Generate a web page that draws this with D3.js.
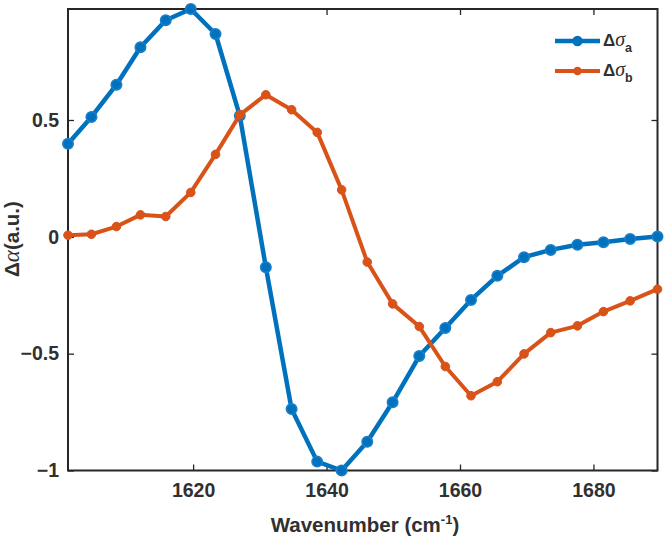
<!DOCTYPE html>
<html>
<head>
<meta charset="utf-8">
<script src="https://cdn.jsdelivr.net/npm/d3@7"></script>
<style>
  html, body { margin: 0; padding: 0; background: #fff; }
  svg { display: block; font-family: "Liberation Sans", Arial, sans-serif; }
</style>
</head>
<body>
<svg id="chart" width="666" height="538"></svg>
<script>
// Data
const wavenumber = [1601.25, 1604.76, 1608.51, 1612.11, 1615.9, 1619.65, 1623.36, 1627.0,
  1630.9, 1634.76, 1638.6, 1642.26, 1646.1, 1649.9, 1653.9, 1657.8, 1661.65, 1665.6,
  1669.6, 1673.6, 1677.6, 1681.5, 1685.5, 1689.6];
const sigmaA = [0.398, 0.513, 0.651, 0.811, 0.927, 0.975, 0.868, 0.518,
  -0.130, -0.737, -0.962, -1.0, -0.877, -0.708, -0.510, -0.390, -0.270, -0.167,
  -0.087, -0.056, -0.034, -0.023, -0.009, 0.001];
const sigmaB = [0.007, 0.011, 0.044, 0.094, 0.087, 0.190, 0.353, 0.522,
  0.608, 0.544, 0.447, 0.201, -0.108, -0.287, -0.384, -0.555, -0.680, -0.620,
  -0.501, -0.410, -0.381, -0.320, -0.274, -0.224];
const xTicks = [1620, 1640, 1660, 1680];
const yTicks = [-1, -0.5, 0, 0.5];
const seriesNames = ["a", "b"];
const seriesColors = ["#0072BD", "#D95319"];

const svg = d3.select("#chart");
const m = { left: 68, top: 9, right: 657.5, bottom: 470.5 };
const x = d3.scaleLinear().domain([1601.25, 1689.6]).range([m.left, m.right]);
const y = d3.scaleLinear().domain([-1, 0.975]).range([m.bottom, m.top]);
const axisColor = "#262626";

// Axes with inward ticks
const gx = svg.append("g").attr("transform", `translate(0,${m.bottom})`)
  .call(d3.axisBottom(x).tickValues(xTicks).tickSize(-6).tickPadding(13).tickFormat(d3.format("d")));
const gxTop = svg.append("g").attr("transform", `translate(0,${m.top})`)
  .call(d3.axisTop(x).tickValues(xTicks).tickSize(-6).tickFormat(""));
const gy = svg.append("g").attr("transform", `translate(${m.left},0)`)
  .call(d3.axisLeft(y).tickValues(yTicks).tickSize(-6).tickPadding(9).tickFormat(d => d === 0 ? "0" : d3.format("")(d)));
const gyR = svg.append("g").attr("transform", `translate(${m.right},0)`)
  .call(d3.axisRight(y).tickValues(yTicks).tickSize(-6).tickFormat(""));

[gx, gxTop, gy, gyR].forEach(g => {
  g.select(".domain").remove();
  g.selectAll(".tick line").attr("stroke", axisColor).attr("stroke-width", 1.3);
  g.selectAll(".tick text").attr("fill", "#303030").attr("font-size", 19.5)
    .attr("font-weight", "bold").attr("font-family", "'Liberation Sans', Arial, sans-serif");
});

// Box
svg.append("rect").attr("x", m.left).attr("y", m.top)
  .attr("width", m.right - m.left).attr("height", m.bottom - m.top)
  .attr("fill", "none").attr("stroke", axisColor).attr("stroke-width", 2);

const series = [sigmaA, sigmaB];
const lineGen = d3.line().x((d, i) => x(wavenumber[i])).y(d => y(d));
const plot = svg.append("g");
series.forEach((vals, k) => {
  plot.append("path").datum(vals).attr("d", lineGen)
    .attr("fill", "none").attr("stroke", seriesColors[k])
    .attr("stroke-width", k === 0 ? 4.5 : 4).attr("stroke-linejoin", "round");
  plot.selectAll(null).data(vals).enter().append("circle")
    .attr("cx", (d, i) => x(wavenumber[i])).attr("cy", d => y(d))
    .attr("r", k === 0 ? 5.2 : 4.3)
    .attr("fill", seriesColors[k])
    .attr("stroke", k === 0 ? "#1a7fc8" : seriesColors[k])
    .attr("stroke-width", k === 0 ? 1.6 : 1);
});

// Axis labels
const xl = svg.append("text").attr("x", 365).attr("y", 532)
  .attr("text-anchor", "middle").attr("font-size", 20.5).attr("font-weight", "bold").attr("fill", "#303030");
xl.append("tspan").text("Wavenumber (cm");
xl.append("tspan").attr("font-size", 13).attr("dy", -8).text("-1");
xl.append("tspan").attr("dy", 8).text(")");

const yl = svg.append("text").attr("transform", "translate(19,239) rotate(-90)")
  .attr("text-anchor", "middle").attr("font-size", 20.5).attr("font-weight", "bold").attr("fill", "#303030");
yl.append("tspan").text("Δ");
yl.append("tspan").attr("font-style", "italic").attr("font-weight", "normal")
  .attr("font-family", "'Liberation Serif', 'Times New Roman', serif").attr("font-size", 23).text("α");
yl.append("tspan").text("(a.u.)");

// Legend
const legY = [41, 71];
seriesNames.forEach((name, k) => {
  const g = svg.append("g");
  g.append("line").attr("x1", 555).attr("x2", 600).attr("y1", legY[k]).attr("y2", legY[k])
    .attr("stroke", seriesColors[k]).attr("stroke-width", k === 0 ? 4.5 : 4);
  g.append("circle").attr("cx", 577.5).attr("cy", legY[k]).attr("r", k === 0 ? 5.2 : 4.3)
    .attr("fill", seriesColors[k]);
  const t = g.append("text").attr("x", 603).attr("y", legY[k] + 5)
    .attr("font-size", 17).attr("fill", "#303030");
  t.append("tspan").attr("font-weight", "bold").text("Δ");
  t.append("tspan").attr("font-style", "italic")
    .attr("font-family", "'Liberation Serif', 'Times New Roman', serif").attr("font-size", 20).text("σ");
  t.append("tspan").attr("font-weight", "bold").attr("font-size", 12.5).attr("dy", 6).text(name);
});
</script>
</body>
</html>
